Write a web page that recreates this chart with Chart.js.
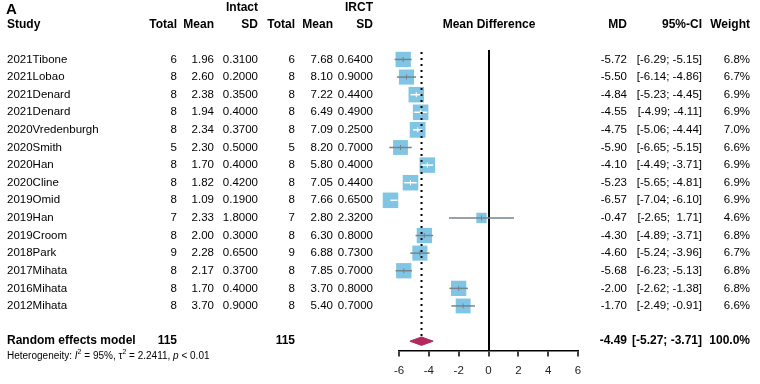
<!DOCTYPE html>
<html>
<head>
<meta charset="utf-8">
<script src="https://cdn.jsdelivr.net/npm/chart.js@4.4.0/dist/chart.umd.min.js"></script>
<style>
  html, body { margin: 0; padding: 0; background: #fff; }
</style>
</head>
<body>
<canvas id="forest" width="760" height="384"></canvas>
<script>
// study data
const studies = ['2021Tibone', '2021Lobao', '2021Denard', '2021Denard', '2020Vredenburgh', '2020Smith',
  '2020Han', '2020Cline', '2019Omid', '2019Han', '2019Croom', '2018Park', '2017Mihata', '2016Mihata', '2012Mihata'];
const intactTotal = [6, 8, 8, 8, 8, 5, 8, 8, 8, 7, 8, 9, 8, 8, 8];
const intactMean = ['1.96', '2.60', '2.38', '1.94', '2.34', '2.30', '1.70', '1.82', '1.09', '2.33', '2.00', '2.28', '2.17', '1.70', '3.70'];
const intactSD = ['0.3100', '0.2000', '0.3500', '0.4000', '0.3700', '0.5000', '0.4000', '0.4200', '0.1900', '1.8000', '0.3000', '0.6500', '0.3700', '0.4000', '0.9000'];
const irctTotal = [6, 8, 8, 8, 8, 5, 8, 8, 8, 7, 8, 9, 8, 8, 8];
const irctMean = ['7.68', '8.10', '7.22', '6.49', '7.09', '8.20', '5.80', '7.05', '7.66', '2.80', '6.30', '6.88', '7.85', '3.70', '5.40'];
const irctSD = ['0.6400', '0.9000', '0.4400', '0.4900', '0.2500', '0.7000', '0.4000', '0.4400', '0.6500', '2.3200', '0.8000', '0.7300', '0.7000', '0.8000', '0.7000'];
const md = [-5.72, -5.50, -4.84, -4.55, -4.75, -5.90, -4.10, -5.23, -6.57, -0.47, -4.30, -4.60, -5.68, -2.00, -1.70];
const ciLow = [-6.29, -6.14, -5.23, -4.99, -5.06, -6.65, -4.49, -5.65, -7.04, -2.65, -4.89, -5.24, -6.23, -2.62, -2.49];
const ciHigh = [-5.15, -4.86, -4.45, -4.11, -4.44, -5.15, -3.71, -4.81, -6.10, 1.71, -3.71, -3.96, -5.13, -1.38, -0.91];
const weight = [6.8, 6.7, 6.9, 6.9, 7.0, 6.6, 6.9, 6.9, 6.9, 4.6, 6.8, 6.7, 6.8, 6.8, 6.6];

// random effects summary
const pooledTotal = [115, 115];
const pooledMD = -4.49;
const pooledLow = -5.27;
const pooledHigh = -3.71;
const xTicks = [-6, -4, -2, 0, 2, 4, 6];

const rows = studies.map((s, i) => i + 1);
const pooledRow = 17;

const boxSide = w => 2.25 * w;   // px side of the weight square
const fmt = v => v.toFixed(2);
const ciText = (lo, hi) => '[' + fmt(lo) + '; ' + fmt(hi).padStart(5, ' ') + ']';

const FONT = "'Liberation Sans', Arial, sans-serif";

const lineColor = (ctx, i) => {
  const xs = ctx.chart.scales.x;
  const ciPx = xs.getPixelForValue(ciHigh[i]) - xs.getPixelForValue(ciLow[i]);
  return ciPx > boxSide(weight[i]) ? '#75838f' : '#ffffff';
};

const datasets = [];

// confidence interval lines with a small tick at the estimate
rows.forEach((r, i) => {
  datasets.push({
    data: [{ x: ciLow[i], y: r }, { x: md[i], y: r }, { x: ciHigh[i], y: r }],
    showLine: true,
    clip: false,
    borderWidth: 1.5,
    borderColor: ctx => lineColor(ctx, i),
    pointStyle: 'line',
    rotation: 90,
    pointRadius: [0, 2.5, 0],
    pointBorderWidth: 1,
    pointBorderColor: ctx => lineColor(ctx, i),
    order: 1
  });
});

// weight squares
datasets.push({
  data: rows.map((r, i) => ({ x: md[i], y: r })),
  clip: false,
  pointStyle: 'rect',
  pointRadius: weight.map(w => boxSide(w) / Math.SQRT2),
  backgroundColor: '#80c6e4',
  borderWidth: 0,
  pointBorderWidth: 0,
  order: 2
});

// pooled diamond
datasets.push({
  data: [
    { x: pooledLow, y: pooledRow }, { x: pooledMD, y: pooledRow - 0.24 },
    { x: pooledHigh, y: pooledRow }, { x: pooledMD, y: pooledRow + 0.24 },
    { x: pooledLow, y: pooledRow }
  ],
  showLine: true,
  fill: 'shape',
  backgroundColor: '#b3285f',
  borderColor: '#b3285f',
  borderWidth: 1,
  pointRadius: 0,
  order: 1
});

// dotted line at the pooled estimate
datasets.push({
  data: [{ x: pooledMD, y: 0.58 }, { x: pooledMD, y: pooledRow - 0.26 }],
  showLine: true,
  borderColor: '#000',
  borderWidth: 2,
  borderDash: [2, 4],
  pointRadius: 0,
  order: 0
});

const tablePlugin = {
  id: 'table',
  afterDraw(chart) {
    const ctx = chart.ctx;
    const ys = chart.scales.y;
    const put = (txt, x, y, align, font) => {
      ctx.font = font;
      ctx.textAlign = align;
      ctx.fillText(txt, x, y);
    };
    const reg = '11.5px ' + FONT;
    const bold = 'bold 12px ' + FONT;
    ctx.save();
    ctx.fillStyle = '#000';
    ctx.textBaseline = 'middle';

    // headers
    put('A', 6, 10, 'left', 'bold 15px ' + FONT);
    put('Intact', 242, 8, 'center', bold);
    put('IRCT', 373, 8, 'right', bold);
    const hy = 25;
    put('Study', 7, hy, 'left', bold);
    put('Total', 177, hy, 'right', bold);
    put('Mean', 214, hy, 'right', bold);
    put('SD', 258, hy, 'right', bold);
    put('Total', 295, hy, 'right', bold);
    put('Mean', 333, hy, 'right', bold);
    put('SD', 373, hy, 'right', bold);
    put('Mean Difference', 489, hy, 'center', bold);
    put('MD', 627, hy, 'right', bold);
    put('95%-CI', 702, hy, 'right', bold);
    put('Weight', 750, hy, 'right', bold);

    // study rows
    rows.forEach((r, i) => {
      const y = ys.getPixelForValue(r);
      put(studies[i], 7, y, 'left', reg);
      put(String(intactTotal[i]), 177, y, 'right', reg);
      put(intactMean[i], 214, y, 'right', reg);
      put(intactSD[i], 258, y, 'right', reg);
      put(String(irctTotal[i]), 295, y, 'right', reg);
      put(irctMean[i], 333, y, 'right', reg);
      put(irctSD[i], 373, y, 'right', reg);
      put(fmt(md[i]), 627, y, 'right', reg);
      put(ciText(ciLow[i], ciHigh[i]), 702, y, 'right', reg);
      put(weight[i].toFixed(1) + '%', 750, y, 'right', reg);
    });

    // pooled row
    const py = ys.getPixelForValue(pooledRow);
    put('Random effects model', 7, py, 'left', bold);
    put(String(pooledTotal[0]), 177, py, 'right', bold);
    put(String(pooledTotal[1]), 295, py, 'right', bold);
    put(fmt(pooledMD), 627, py, 'right', bold);
    put(ciText(pooledLow, pooledHigh), 702, py, 'right', bold);
    put('100.0%', 750, py, 'right', bold);

    // heterogeneity line
    const small = '10px ' + FONT;
    const smallIt = 'italic 10px ' + FONT;
    const sup = '7px ' + FONT;
    let x = 7;
    const hy2 = py + 15;
    const seg = (txt, font, dy) => {
      ctx.font = font;
      ctx.textAlign = 'left';
      ctx.fillText(txt, x, hy2 + (dy || 0));
      x += ctx.measureText(txt).width;
    };
    seg('Heterogeneity: ', small);
    seg('I', smallIt);
    seg('2', sup, -4);
    seg(' = 95%, ', small);
    seg('\u03c4', small);
    seg('2', sup, -4);
    seg(' = 2.2411, ', small);
    seg('p', smallIt);
    seg(' < 0.01', small);
    ctx.restore();
  }
};

new Chart(document.getElementById('forest'), {
  type: 'scatter',
  data: { datasets },
  options: {
    responsive: false,
    animation: false,
    events: [],
    layout: { padding: { left: 399, right: 182, top: 50, bottom: -2 } },
    plugins: { legend: { display: false }, tooltip: { enabled: false } },
    scales: {
      x: {
        type: 'linear',
        min: xTicks[0],
        max: xTicks[xTicks.length - 1],
        z: 1,
        afterBuildTicks: axis => { axis.ticks = xTicks.map(v => ({ value: v })); },
        ticks: { color: '#222', font: { size: 11.5, family: FONT, lineHeight: 1 }, padding: 9 },
        grid: {
          color: ctx => (ctx.tick && ctx.tick.value === 0 ? '#000' : 'rgba(0,0,0,0)'),
          lineWidth: 2,
          tickColor: '#000',
          tickWidth: 1.5,
          tickLength: 6
        },
        border: { display: true, color: '#000', width: 1.5 }
      },
      y: {
        type: 'linear',
        reverse: true,
        min: 0.463,
        max: 17.53,
        display: false
      }
    }
  },
  plugins: [tablePlugin]
});
</script>
</body>
</html>
